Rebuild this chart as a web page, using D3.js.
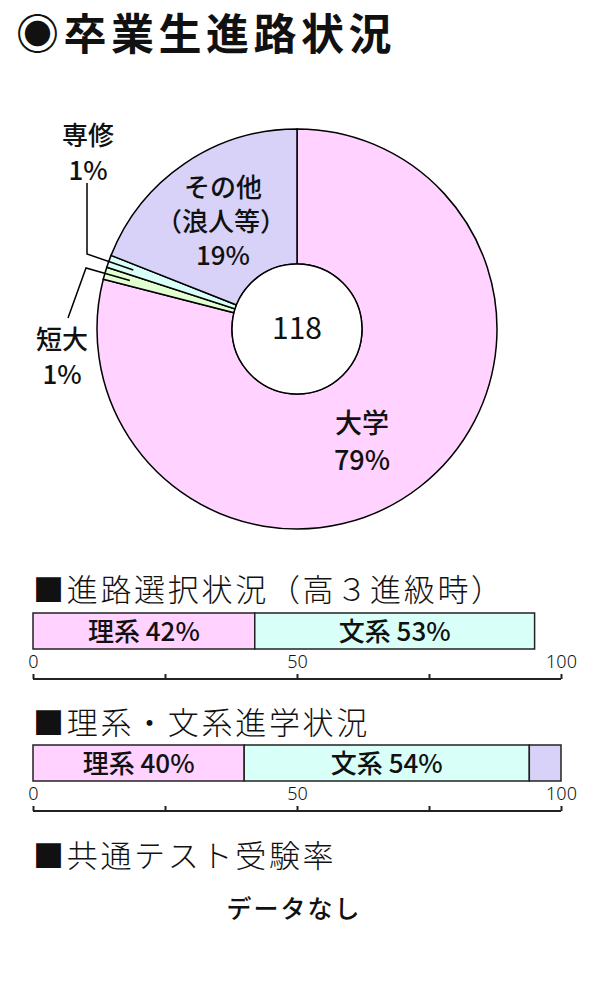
<!DOCTYPE html>
<html>
<head>
<meta charset="utf-8">
<script src="https://cdn.jsdelivr.net/npm/d3@7"></script>
<style>
  body { margin: 0; background: #fff; }
  svg { display: block; }
  text { font-family: "Noto Sans CJK JP", "Noto Sans", sans-serif; fill: #111; }
</style>
</head>
<body>
<div id="chart"></div>
<script>
// pie: graduate destinations
let pieLabels = ["大学", "短大", "専修", "その他"];
let pieSubLabels = [null, null, null, "（浪人等）"];
let pieValues = [79, 1, 1, 19];
let pieColors = ["#ffd2ff", "#e2ffd2", "#d8fff8", "#d8d2f8"];
let totalStudents = 118;

// bars
let barCats = ["理系", "文系", "その他"];
let barColors = ["#ffd2ff", "#d8fff8", "#d8d2f8"];
let choiceValues = [42, 53];      // 進路選択状況（高３進級時）
let advanceValues = [40, 54, 6];  // 理系・文系進学状況
let axisTicks = [0, 25, 50, 75, 100];
let tickLabels = {0: "0", 50: "50", 100: "100"};

let width = 600, height = 1000;

let svg = d3.select("#chart").append("svg")
  .attr("width", width)
  .attr("height", height);

svg.append("rect").attr("width", width).attr("height", height).attr("fill", "#fff");

// title
svg.append("text")
  .attr("x", 16)
  .attr("y", 50)
  .attr("font-size", 43)
  .attr("font-weight", "bold")
  .attr("letter-spacing", 4.5)
  .text("◉卒業生進路状況");

// ---- donut ----
let cx = 297, cy = 329, rOuter = 200, rInner = 65;
let g = svg.append("g").attr("transform", "translate(" + cx + "," + cy + ")");

let pie = d3.pie().sort(null).value(d => d);
let arcs = pie(pieValues);
let arc = d3.arc().innerRadius(rInner).outerRadius(rOuter);

g.selectAll("path.slice")
  .data(arcs)
  .enter().append("path")
  .attr("class", "slice")
  .attr("d", arc)
  .attr("fill", (d, i) => pieColors[i])
  .attr("stroke", "#000")
  .attr("stroke-width", 1.5);

g.append("circle")
  .attr("r", rInner)
  .attr("fill", "#fff")
  .attr("stroke", "#000")
  .attr("stroke-width", 1.5);

g.append("text")
  .attr("text-anchor", "middle")
  .attr("y", 10)
  .attr("font-size", 30)
  .text(totalStudents);

function pt(a, r) { return [Math.sin(a) * r, -Math.cos(a) * r]; }

// one text element per label, lines as tspans
function multiLabel(x0, y0, lines, size, gap) {
  let t = g.append("text")
    .attr("text-anchor", "middle")
    .attr("font-size", size)
    .attr("font-weight", 500);
  lines.forEach((s, k) => {
    t.append("tspan")
      .attr("x", x0 + (s.startsWith("（") ? -2 : 0))
      .attr("y", y0 + k * gap)
      .text(s);
  });
}

// 大学
multiLabel(65, 104, [pieLabels[0], pieValues[0] + "%"], 27, 37);
// その他
multiLabel(-74, -132, [pieLabels[3], pieSubLabels[3], pieValues[3] + "%"], 26, 34);

// leader labels for the thin slices
let leaders = [
  {i: 2, elbow: [-210, -75], end: [-210, -146], lx: -209, ly: -184},
  {i: 1, elbow: [-211, -61], end: [-229, -11], lx: -235, ly: 20}
];
leaders.forEach(l => {
  let a = arcs[l.i];
  let p = pt((a.startAngle + a.endAngle) / 2, 174);
  g.append("polyline")
    .attr("points", [p, l.elbow, l.end].map(q => q.join(",")).join(" "))
    .attr("fill", "none")
    .attr("stroke", "#000")
    .attr("stroke-width", 1.5);
  multiLabel(l.lx, l.ly, [pieLabels[l.i], pieValues[l.i] + "%"], 26, 35);
});

// ---- stacked bars ----
let x = d3.scaleLinear().domain([0, 100]).range([33, 561]);

function header(y, txt) {
  svg.append("text")
    .attr("x", 33)
    .attr("y", y)
    .attr("font-size", 31)
    .attr("font-weight", 300)
    .attr("letter-spacing", 2.7)
    .text(txt);
}

function stackedBar(top, values) {
  let bh = 36;
  let start = 0;
  let segs = values.map((v, i) => {
    let s = {v: v, i: i, x0: start, x1: start + v};
    start += v;
    return s;
  });
  let bg = svg.append("g");
  bg.selectAll("rect")
    .data(segs)
    .enter().append("rect")
    .attr("x", d => x(d.x0))
    .attr("y", top)
    .attr("width", d => x(d.x1) - x(d.x0))
    .attr("height", bh)
    .attr("fill", d => barColors[d.i])
    .attr("stroke", "#222")
    .attr("stroke-width", 1.5);
  bg.selectAll("text")
    .data(segs.filter(d => d.v >= 10))
    .enter().append("text")
    .attr("text-anchor", "middle")
    .attr("x", d => (x(d.x0) + x(d.x1)) / 2)
    .attr("y", top + 28)
    .attr("font-size", 26)
    .attr("font-weight", 500)
    .text(d => barCats[d.i] + " " + d.v + "%");

  // axis below, ticks pointing up
  let axisY = top + 66;
  let axis = d3.axisTop(x).tickValues(axisTicks).tickSize(5).tickFormat("");
  let ag = svg.append("g")
    .attr("transform", "translate(0," + axisY + ")")
    .call(axis);
  ag.select(".domain").attr("stroke", "#222").attr("stroke-width", 2).attr("d", "M" + x(0) + ",0H" + x(100));
  ag.selectAll(".tick line").attr("stroke", "#222").attr("stroke-width", 2);
  ag.selectAll(".tick")
    .filter(d => tickLabels[d] !== undefined)
    .append("text")
    .attr("y", -11)
    .attr("text-anchor", "middle")
    .attr("font-size", 18)
    .attr("font-weight", 300)
    .attr("fill", "#333")
    .style("font-family", "'Noto Sans', sans-serif")
    .text(d => tickLabels[d]);
}

header(601, "■進路選択状況（高３進級時）");
stackedBar(613, choiceValues);

header(734, "■理系・文系進学状況");
stackedBar(745, advanceValues);

header(867, "■共通テスト受験率");
svg.append("text")
  .attr("x", 294)
  .attr("y", 918)
  .attr("text-anchor", "middle")
  .attr("font-size", 25)
  .attr("font-weight", 500)
  .attr("letter-spacing", 2)
  .text("データなし");
</script>
</body>
</html>
